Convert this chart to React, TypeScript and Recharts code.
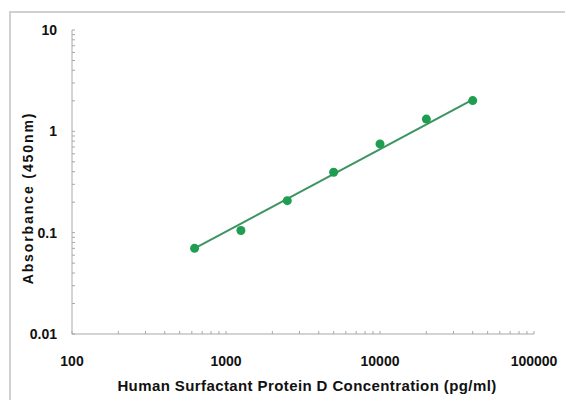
import React from "react"
import { ScatterChart, Scatter, XAxis, YAxis } from "recharts"

// standard curve concentrations (pg/ml) and OD readings
const concentrations = [625, 1250, 2500, 5000, 10000, 20000, 40000]
const absorbance = [0.07, 0.105, 0.207, 0.395, 0.751, 1.32, 2.01]

// fitted line end points
const fitX = [625, 40000]
const fitY = [0.07, 2.05]

const xMajor = [100, 1000, 10000, 100000]
const xMinor = [
  200, 300, 400, 500, 600, 700, 800, 900,
  2000, 3000, 4000, 5000, 6000, 7000, 8000, 9000,
  20000, 30000, 40000, 50000, 60000, 70000, 80000, 90000,
]
const yMajor = [0.01, 0.1, 1, 10]
const yMinor = [
  0.02, 0.03, 0.04, 0.05, 0.06, 0.07, 0.08, 0.09,
  0.2, 0.3, 0.4, 0.5, 0.6, 0.7, 0.8, 0.9,
  2, 3, 4, 5, 6, 7, 8, 9,
]

const points = concentrations.map((x, i) => ({ x, y: absorbance[i] }))
const fit = fitX.map((x, i) => ({ x, y: fitY[i] }))

const GREEN = "#1f9d50"
const LINE = "#3b9461"
const AXIS = "#a8a8a8"
const font = "Arial, 'Liberation Sans', sans-serif"

const fmt = (v: number) => String(v)

function XTick(props: any) {
  const { x, y, payload } = props
  const major = xMajor.includes(payload.value)
  return (
    <g>
      <line x1={x} x2={x} y1={y} y2={y - 3} stroke={AXIS} strokeWidth={1} />
      {major && (
        <text x={x} y={y + 32} textAnchor="middle" fontFamily={font} fontWeight="bold" fontSize={14} fill="#111">
          {fmt(payload.value)}
        </text>
      )}
    </g>
  )
}

function YTick(props: any) {
  const { x, y, payload } = props
  const major = yMajor.includes(payload.value)
  return (
    <g>
      <line x1={x} x2={x + 3} y1={y} y2={y} stroke={AXIS} strokeWidth={1} />
      {major && (
        <text x={x - 15} y={y + 5} textAnchor="end" fontFamily={font} fontWeight="bold" fontSize={14} fill="#111">
          {fmt(payload.value)}
        </text>
      )}
    </g>
  )
}

const Dot = (p: any) => <circle cx={p.cx} cy={p.cy} r={4.5} fill={GREEN} />
const NoDot = () => <g />

export default function App() {
  return (
    <div style={{ position: "absolute", left: 0, top: 0, width: 565, height: 400, overflow: "hidden", background: "#fff" }}>
      <div
        style={{
          position: "absolute",
          left: 9,
          top: 11,
          width: 600,
          height: 450,
          border: "2px solid #d0d0d0",
        }}
      />
      <div style={{ position: "absolute", left: 0, top: 0 }}>
        <ScatterChart width={565} height={400} margin={{ top: 30, right: 31, left: 12, bottom: 36 }}>
          <XAxis
            type="number"
            dataKey="x"
            scale="log"
            domain={[100, 100000]}
            ticks={[...xMajor, ...xMinor]}
            interval={0}
            tick={<XTick />}
            tickLine={false}
            tickSize={0}
            tickMargin={0}
            height={30}
            stroke={AXIS}
            allowDataOverflow
          />
          <YAxis
            type="number"
            dataKey="y"
            scale="log"
            domain={[0.01, 10]}
            ticks={[...yMajor, ...yMinor]}
            interval={0}
            tick={<YTick />}
            tickLine={false}
            tickSize={0}
            tickMargin={0}
            width={60}
            stroke={AXIS}
            allowDataOverflow
          />
          <Scatter data={fit} line={{ stroke: LINE, strokeWidth: 2 }} shape={NoDot} isAnimationActive={false} />
          <Scatter data={points} shape={Dot} isAnimationActive={false} />
        </ScatterChart>
      </div>
      <div
        style={{
          position: "absolute",
          left: 28,
          top: 198,
          transform: "translate(-50%, -50%) rotate(-90deg)",
          whiteSpace: "nowrap",
          fontFamily: font,
          fontWeight: "bold",
          fontSize: 14,
          letterSpacing: 1.9,
          color: "#111",
        }}
      >
        Absorbance (450nm)
      </div>
      <div
        style={{
          position: "absolute",
          left: 307,
          top: 385,
          transform: "translate(-50%, -50%)",
          whiteSpace: "nowrap",
          fontFamily: font,
          fontWeight: "bold",
          fontSize: 15,
          letterSpacing: 0.4,
          color: "#111",
        }}
      >
        Human Surfactant Protein D Concentration (pg/ml)
      </div>
    </div>
  )
}
